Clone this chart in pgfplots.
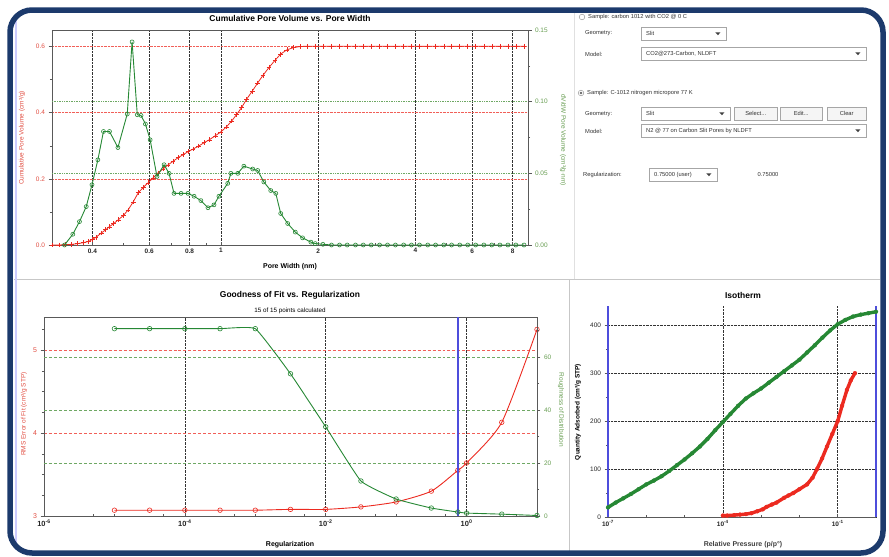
\documentclass[border=0pt]{standalone}
\usepackage{fontspec}
\setmainfont{Liberation Sans}
\usepackage{pgfplots}
\pgfplotsset{compat=1.18}
\usepackage{pgfplotstable}

\definecolor{pvred}{RGB}{236,42,32}
\definecolor{pvredtxt}{RGB}{226,80,68}
\definecolor{pvgreen}{RGB}{38,136,52}
\definecolor{pvgreentxt}{RGB}{104,158,82}
\definecolor{gridgreen}{RGB}{110,168,100}
\definecolor{framenavy}{RGB}{28,58,108}
\definecolor{selblue}{RGB}{78,78,220}

% cumulative pore volume (cm3/g) vs pore width (nm)
\pgfplotstableread{
w v
0.30 0.000
0.315 0.000
0.33 0.001
0.345 0.002
0.36 0.004
0.375 0.007
0.39 0.011
0.40 0.017
0.41 0.023
0.426 0.036
0.44 0.046
0.451 0.055
0.466 0.065
0.481 0.076
0.50 0.090
0.516 0.106
0.535 0.130
0.555 0.158
0.575 0.174
0.595 0.188
0.617 0.203
0.639 0.218
0.662 0.230
0.686 0.242
0.711 0.253
0.737 0.264
0.764 0.273
0.791 0.282
0.82 0.290
0.853 0.299
0.886 0.309
0.92 0.318
0.96 0.330
1.00 0.342
1.04 0.357
1.08 0.375
1.12 0.395
1.16 0.416
1.20 0.440
1.25 0.465
1.30 0.490
1.35 0.513
1.41 0.537
1.47 0.558
1.53 0.577
1.60 0.590
1.68 0.597
1.76 0.600
1.85 0.601
1.96 0.601
2.07 0.601
2.20 0.601
2.33 0.601
2.46 0.601
2.61 0.601
2.76 0.601
2.92 0.601
3.10 0.601
3.28 0.601
3.47 0.601
3.68 0.601
3.89 0.601
4.12 0.601
4.37 0.601
4.62 0.601
4.90 0.601
5.18 0.601
5.49 0.601
5.81 0.601
6.15 0.601
6.52 0.601
6.90 0.601
7.31 0.601
7.74 0.601
8.19 0.601
8.68 0.601
}\cumvol

% dV/dW pore volume (cm3/g.nm)
\pgfplotstableread{
w d
0.328 0.000
0.348 0.0075
0.365 0.0163
0.383 0.0268
0.399 0.042
0.416 0.0594
0.433 0.0792
0.452 0.0792
0.480 0.068
0.513 0.0914
0.531 0.1417
0.551 0.0909
0.566 0.0904
0.584 0.0844
0.604 0.0734
0.634 0.0478
0.667 0.056
0.691 0.050
0.716 0.036
0.753 0.036
0.791 0.036
0.826 0.034
0.867 0.031
0.912 0.026
0.952 0.028
0.986 0.034
1.05 0.043
1.074 0.050
1.128 0.050
1.178 0.055
1.255 0.053
1.30 0.052
1.358 0.044
1.427 0.038
1.479 0.036
1.532 0.022
1.61 0.015
1.70 0.009
1.79 0.005
1.90 0.002
1.96 0.001
2.07 0.0005
2.20 0.000
2.33 0.000
2.46 0.000
2.61 0.000
2.76 0.000
2.92 0.000
3.10 0.000
3.28 0.000
3.47 0.000
3.68 0.000
3.89 0.000
4.12 0.000
4.37 0.000
4.62 0.000
4.90 0.000
5.18 0.000
5.49 0.000
5.81 0.000
6.15 0.000
6.52 0.000
6.90 0.000
7.31 0.000
7.74 0.000
8.19 0.000
8.68 0.000
}\psd

% goodness of fit vs regularization
\pgfplotstableread{
lam rms rough
1e-5 3.07 70.6
3.16e-5 3.07 70.6
1e-4 3.07 70.6
3.16e-4 3.07 70.6
1e-3 3.07 70.6
3.16e-3 3.08 53.6
1e-2 3.08 33.6
3.16e-2 3.11 13.2
0.1 3.17 6.4
0.316 3.30 3.0
0.75 3.55 1.5
1 3.64 1.1
3.16 4.13 0.7
10 5.25 0.2
}\regfit

% selected regularization value
\pgfplotstableread{
lam y
0.75 0
0.75 75
}\selreg

% isotherm, adsorbed (green) and red series
\pgfplotstableread{
p q
1e-7 20
1.58e-7 30
2.51e-7 39
3.98e-7 48
6.31e-7 58
1e-6 68
1.58e-6 76
2.51e-6 85
3.98e-6 96
6.31e-6 108
1e-5 120
1.58e-5 133
2.51e-5 147
3.98e-5 163
6.31e-5 181
1e-4 198
1.58e-4 215
2.51e-4 232
3.98e-4 247
6.31e-4 258
1e-3 268
1.58e-3 280
2.51e-3 292
3.98e-3 304
6.31e-3 316
1e-2 328
1.58e-2 343
2.51e-2 358
3.98e-2 374
6.31e-2 389
1e-1 402
0.158 411
0.251 418
0.398 422
0.631 425
1 428
}\isogreen

\pgfplotstableread{
p q
1e-4 3
1.3e-4 3
2e-4 4
2.8e-4 5
3.98e-4 6
5.6e-4 8
7.94e-4 12
1.1e-3 16
1.38e-3 21
1.9e-3 26
2.51e-3 30
3.98e-3 40
5.2e-3 45
6.92e-3 50
1e-2 58
1.58e-2 68
2.2e-2 82
2.88e-2 100
3.9e-2 122
5.25e-2 147
7.2e-2 173
0.1 200
0.13 232
0.174 265
0.22 285
0.282 300
}\isored

\pgfplotsset{
  pvbase/.style={scale only axis, anchor=south west,
    font=\fontsize{6.5}{7.5}\selectfont,
    /pgf/number format/assume math mode=true,
    axis line style={black!65, line width=0.7pt},
    tick style={black!65, line width=0.5pt},
    major tick length=3.5bp, minor tick length=2.2bp,
    xtick align=inside, ytick align=outside,
    x tick label style={font=\fontsize{6.5}{7.5}\selectfont\bfseries, text=black!85},
  },
}
\newcommand{\uifont}{\fontsize{5.8}{7}\selectfont\color{black!80}}
\newcommand{\dropdown}[4]{%
  \node[draw=black!35, fill=white, anchor=north west, minimum width=#3bp,
        minimum height=13bp, inner sep=0pt] (dd) at (#1bp,-#2bp) {};
  \node[anchor=west, font=\uifont, inner sep=0pt] at ([xshift=5bp]dd.west) {#4};
  \fill[black!75] ([xshift=-11bp,yshift=1.3bp]dd.east) -- ([xshift=-6bp,yshift=1.3bp]dd.east)
     -- ([xshift=-8.5bp,yshift=-1.5bp]dd.east) -- cycle;}
\newcommand{\uibutton}[4]{%
  \node[draw=black!35, fill=black!4, anchor=north west, minimum width=#3bp,
        minimum height=13bp, inner sep=0pt, font=\uifont] at (#1bp,-#2bp) {#4};}

\begin{document}
\begin{tikzpicture}
\useasboundingbox (0,0) rectangle (889bp,-557bp);
\fill[white] (0,0) rectangle (889bp,-557bp);

% panel separators
\draw[black!22, line width=1pt] (14bp,-279bp) -- (880bp,-279bp);
\draw[black!22, line width=1pt] (569bp,-279bp) -- (569bp,-551bp);
\draw[black!12, line width=1pt] (574bp,-12bp) -- (574bp,-279bp);
\draw[blue!20, line width=2.5bp] (16bp,-14bp) -- (16bp,-550bp);

% ---------- Cumulative pore volume ----------
\begin{axis}[pvbase, at={(52bp,-245bp)}, width=476bp, height=215bp,
  xmode=log, xmin=0.3, xmax=8.93, ymin=0, ymax=0.65,
  axis y line*=left, xtick pos=left,
  xtick={0.4,0.6,0.8,1,2,4,6,8}, xticklabels={0.4,0.6,0.8,1,2,4,6,8},
  minor xtick={0.5,0.7,0.9,3,5,7},
  ytick={0,0.2,0.4,0.6}, yticklabels={0.0,0.2,0.4,0.6},
  minor ytick={0.1,0.3,0.5},
  y tick label style={text=pvredtxt},
  xmajorgrids, ymajorgrids,
  major x grid style={black!80, densely dotted, line width=0.7pt},
  major y grid style={pvred!75, densely dotted, line width=0.7pt},
  extra y ticks={0.21667,0.43333}, extra y tick labels={},
  extra y tick style={major tick length=0pt, ymajorgrids,
     major y grid style={gridgreen, densely dotted, line width=0.7pt}},
]
\addplot[pvred, line width=0.8pt, mark=+, mark size=2.4pt,
  mark options={line width=0.6pt}] table[x=w, y=v] {\cumvol};
\end{axis}
\begin{axis}[pvbase, at={(52bp,-245bp)}, width=476bp, height=215bp,
  xmode=log, xmin=0.3, xmax=8.93, ymin=0, ymax=0.15,
  axis x line=none, axis y line*=right,
  ytick={0,0.05,0.1,0.15}, yticklabels={0.00,0.05,0.10,0.15},
  minor ytick={0.025,0.075,0.125},
  y tick label style={text=pvgreentxt},
]
\addplot[pvgreen, line width=0.9pt, mark=o, mark size=2pt,
  mark options={line width=0.6pt}] table[x=w, y=d] {\psd};
\end{axis}
\node[font=\fontsize{8.5}{10}\selectfont\bfseries] at (290bp,-18bp) {Cumulative Pore Volume vs. Pore Width};
\node[font=\fontsize{7}{8}\selectfont\bfseries] at (290bp,-267bp) {Pore Width (nm)};
\node[font=\fontsize{6.5}{8}\selectfont, text=pvredtxt, rotate=90] at (22bp,-138bp) {Cumulative Pore Volume (cm³/g)};
\node[font=\fontsize{6.5}{8}\selectfont, text=pvgreentxt, rotate=-90] at (563bp,-140bp) {dV/dW Pore Volume (cm³/g·nm)};

% ---------- Goodness of fit ----------
\begin{axis}[pvbase, at={(44bp,-516bp)}, width=493bp, height=199bp,
  xmode=log, xmin=1e-6, xmax=10, ymin=3, ymax=5.4,
  axis y line*=left, xtick pos=left,
  xtick={1e-6,1e-4,1e-2,1},
  xticklabels={10\textsuperscript{-6},10\textsuperscript{-4},10\textsuperscript{-2},10\textsuperscript{0}},
  x tick label style={font=\fontsize{7.5}{8.5}\selectfont\bfseries, text=black!85},
  minor xtick={5e-6,1e-5,5e-5,5e-4,1e-3,5e-3,5e-2,1e-1,5e-1,5},
  ytick={3,4,5}, minor ytick={3.25,3.5,3.75,4.25,4.5,4.75,5.25},
  y tick label style={text=pvredtxt, font=\fontsize{7}{8}\selectfont},
  xmajorgrids, ymajorgrids,
  major x grid style={black!80, densely dotted, line width=0.7pt},
  major y grid style={pvred!75, densely dashed, line width=0.6pt},
  extra y ticks={3.64,4.28,4.92}, extra y tick labels={},
  extra y tick style={major tick length=0pt, ymajorgrids,
     major y grid style={gridgreen, densely dashed, line width=0.6pt}},
]
\addplot[pvred, line width=0.9pt, smooth, tension=0.4, mark=o, mark size=2.3pt,
  mark options={line width=0.6pt}] table[x=lam, y=rms] {\regfit};
\end{axis}
\begin{axis}[pvbase, at={(44bp,-516bp)}, width=493bp, height=199bp,
  xmode=log, xmin=1e-6, xmax=10, ymin=0, ymax=75,
  axis x line=none, axis y line*=right,
  ytick={0,20,40,60}, minor ytick={10,30,50,70},
  y tick label style={text=pvgreentxt},
]
\addplot[color=selblue, line width=1.5pt, no markers] table[x=lam, y=y] {\selreg};
\addplot[pvgreen, line width=0.9pt, smooth, tension=0.22, mark=o, mark size=2.3pt,
  mark options={line width=0.6pt}] table[x=lam, y=rough] {\regfit};
\end{axis}
\node[font=\fontsize{8.5}{10}\selectfont\bfseries] at (290bp,-295bp) {Goodness of Fit vs. Regularization};
\node[font=\fontsize{6.3}{7}\selectfont] at (290bp,-311bp) {15 of 15 points calculated};
\node[font=\fontsize{7}{8}\selectfont\bfseries] at (290bp,-545bp) {Regularization};
\node[font=\fontsize{6.5}{8}\selectfont, text=pvredtxt, rotate=90] at (24bp,-414bp) {RMS Error of Fit (cm³/g STP)};
\node[font=\fontsize{6.5}{8}\selectfont, text=pvgreentxt, rotate=-90] at (561bp,-410bp) {Roughness of Distribution};

% ---------- Isotherm ----------
\begin{axis}[pvbase, at={(608bp,-517bp)}, width=268bp, height=211bp,
  xmode=log, xmin=1e-7, xmax=1, ymin=0, ymax=440, clip=false,
  axis x line*=bottom, axis y line*=left,
  xtick={1e-7,1e-4,1e-1},
  xticklabels={10\textsuperscript{-7},10\textsuperscript{-4},10\textsuperscript{-1}},
  minor xtick={1e-6,1e-5,1e-3,1e-2},
  ytick={0,100,200,300,400}, minor ytick={50,150,250,350},
  y tick label style={text=black!85},
  xmajorgrids, ymajorgrids,
  grid style={black!80, densely dotted, line width=0.7pt},
]
\addplot[color=selblue, line width=1.3pt, no markers] coordinates {(1e-7,0) (1e-7,440)};
\addplot[color=selblue, line width=1.3pt, no markers] coordinates {(1,0) (1,440)};
\addplot[pvgreen, line width=3.4bp, line cap=round, line join=round, mark=*, mark size=2bp,
  mark options={line width=0.2pt}] table[x=p, y=q] {\isogreen};
\addplot[pvred, line width=3.4bp, line cap=round, line join=round, mark=*, mark size=2bp,
  mark options={line width=0.2pt}] table[x=p, y=q] {\isored};
\end{axis}
\node[font=\fontsize{8.5}{10}\selectfont\bfseries] at (743bp,-295bp) {Isotherm};
\node[font=\fontsize{7}{8}\selectfont\bfseries, text=black!75] at (743bp,-545bp) {Relative Pressure (p/p°)};
\node[font=\fontsize{6.5}{8}\selectfont\bfseries, rotate=90] at (578bp,-412bp) {Quantity Adsorbed (cm³/g STP)};

% ---------- settings panel ----------
\draw[black!45] (582bp,-17bp) circle (2.8bp);
\node[anchor=west, font=\uifont, inner sep=0pt] at (588bp,-17bp) {Sample: carbon 1012 with CO2 @ 0 C};
\node[anchor=west, font=\uifont, inner sep=0pt] at (585bp,-33bp) {Geometry:};
\dropdown{641}{27}{85}{Slit}
\node[anchor=west, font=\uifont, inner sep=0pt] at (585bp,-54bp) {Model:};
\dropdown{641}{47}{225}{CO2@273-Carbon, NLDFT}

\draw[black!45] (581bp,-93bp) circle (2.8bp);
\fill[black!60] (581bp,-93bp) circle (1.3bp);
\node[anchor=west, font=\uifont, inner sep=0pt] at (587bp,-93bp) {Sample: C-1012 nitrogen micropore 77 K};
\node[anchor=west, font=\uifont, inner sep=0pt] at (585bp,-114bp) {Geometry:};
\dropdown{641}{107}{89}{Slit}
\uibutton{734}{107}{43}{Select...}
\uibutton{780}{107}{42}{Edit...}
\uibutton{827}{107}{39}{Clear}
\node[anchor=west, font=\uifont, inner sep=0pt] at (585bp,-131bp) {Model:};
\dropdown{641}{124}{225}{N2 @ 77 on Carbon Slit Pores by NLDFT}

\node[anchor=west, font=\uifont, inner sep=0pt] at (583bp,-175bp) {Regularization:};
\dropdown{649}{168}{68}{0.75000 (user)}
\node[font=\uifont, inner sep=0pt] at (768bp,-175bp) {0.75000};

% outer frame
\draw[framenavy, line width=5.5bp, rounded corners=22bp] (10bp,-10bp) rectangle (883bp,-553bp);
\end{tikzpicture}
\end{document}
